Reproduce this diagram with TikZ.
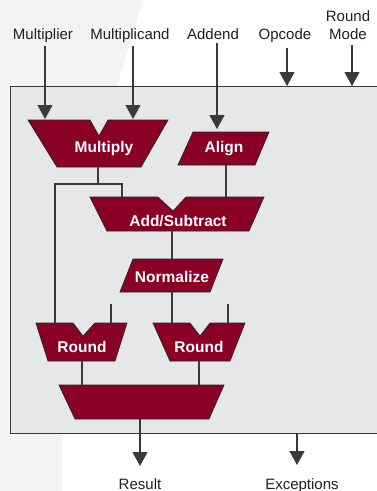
\documentclass[tikz,border=0pt]{standalone}
\usepackage{fontspec}
\setmainfont{Liberation Sans}
\usepackage{tikz}
\usetikzlibrary{arrows.meta,calc}
\definecolor{unit}{HTML}{8A0024}
\definecolor{panel}{HTML}{E6E7E9}
\definecolor{wirecol}{HTML}{3A3A3A}
\definecolor{pagetint}{HTML}{F3F3F3}
\definecolor{ink}{HTML}{231F20}

\begin{document}
\begin{tikzpicture}[x=1pt, y=-1pt,
  block/.style={fill=unit, draw=black!85, line width=0.7pt},
  lbl/.style={text=white, inner sep=0pt, font=\fontsize{15.5}{18}\selectfont\bfseries},
  io/.style={text=ink, inner sep=0pt, align=center, font=\fontsize{15}{18}\selectfont},
  wire/.style={draw=wirecol, line width=1.2pt},
  arr/.style={wire, -{Triangle[width=15pt,length=14pt]}}]
\clip (0,0) rectangle (377,491);
\fill[white] (0,0) rectangle (377,491);
\fill[pagetint] (0,0) -- (143,0) -- (117,86) -- (62,433) -- (62,491) -- (0,491) -- cycle;
% chip outline
\draw[fill=panel, draw=wirecol, line width=1pt] (10,86) rectangle (400,433);

% inputs and outputs
\node[io, anchor=base] (mplier) at (43,39) {Multiplier};
\node[io, anchor=base] (mcand) at (130,39) {Multiplicand};
\node[io, anchor=base] (addend) at (213,39) {Addend};
\node[io, anchor=base] (opcode) at (285,39) {Opcode};
\node[io, anchor=base] (rmode) at (348,39) {Round\\Mode};
\node[io, anchor=base] (result) at (140,489) {Result};
\node[io, anchor=base] (except) at (302,489) {Exceptions};

% units
\draw[block] (28,120) -- (90,120) -- (99,136) -- (108,120) -- (168,120)
  -- (141,167) -- (57,167) -- cycle;
\node[lbl] (mul) at (104,148) {Multiply};
\draw[block] (193,132) -- (269,132) -- (255,165) -- (178,165) -- cycle;
\node[lbl] (align) at (224,149) {Align};
\draw[block] (90,197) -- (158,197) -- (173,211) -- (186,197) -- (264,197)
  -- (249,231) -- (107,231) -- cycle;
\node[lbl] (addsub) at (178,221) {Add/Subtract};
\draw[block] (133,259) -- (223,259) -- (210,292) -- (120,292) -- cycle;
\node[lbl] (norm) at (172,277) {Normalize};
\draw[block] (36,323) -- (73,323) -- (83,336) -- (95,323) -- (127,323)
  -- (115,361) -- (48,361) -- cycle;
\node[lbl] (rnd1) at (82,347) {Round};
\draw[block] (153,323) -- (190,323) -- (200,336) -- (210,323) -- (245,323)
  -- (230,361) -- (170,361) -- cycle;
\node[lbl] (rnd2) at (199,347) {Round};
\draw[block] (59,385) -- (224,385) -- (209,419) -- (75,419) -- cycle;

% ports
\coordinate (mul-a) at (45,119);
\coordinate (mul-b) at (133,119);
\coordinate (align-a) at (217,129);
\coordinate (op-in) at (287,86);
\coordinate (rm-in) at (352,86);
\coordinate (mul-out) at (98,167);
\coordinate (split) at (98,184);
\coordinate (addsub-a) at (122,197);
\coordinate (align-out) at (226,165);
\coordinate (addsub-b) at (226,197);
\coordinate (addsub-out) at (172,231);
\coordinate (norm-in) at (172,259);
\coordinate (norm-out) at (172,292);
\coordinate (rnd1-a) at (55,323);
\coordinate (rnd1-b) at (111,323);
\coordinate (rnd1-c) at (111,304);
\coordinate (rnd2-a) at (172,323);
\coordinate (rnd2-b) at (228,323);
\coordinate (rnd2-c) at (228,304);
\coordinate (rnd1-out) at (82,361);
\coordinate (rnd2-out) at (199,361);
\coordinate (sel-a) at (82,385);
\coordinate (sel-b) at (199,385);
\coordinate (sel-out) at (140,419);
\coordinate (res-in) at (140,466);
\coordinate (exc-out) at (297,433);
\coordinate (exc-in) at (297,465);

\draw[arr] (mplier.south -| mul-a) ++(0,4) -- (mul-a);
\draw[arr] (mcand.south -| mul-b) ++(0,4) -- (mul-b);
\draw[arr] (addend.south -| align-a) ++(0,4) -- (align-a);
\draw[arr] (opcode.south -| op-in) ++(0,6) -- (op-in);
\draw[arr] (rmode.south -| rm-in) ++(0,6) -- (rm-in);

\draw[wire] (mul-out) -- (split) -| (rnd1-a);
\draw[wire] (split) -| (addsub-a);
\draw[wire] (align-out) -- (addsub-b);
\draw[wire] (addsub-out) -- (norm-in);
\draw[wire] (norm-out) -- (rnd2-a);
\draw[wire] (rnd1-c) -- (rnd1-b);
\draw[wire] (rnd2-c) -- (rnd2-b);
\draw[wire] (rnd1-out) -- (sel-a);
\draw[wire] (rnd2-out) -- (sel-b);
\draw[arr] (sel-out) -- (res-in);
\draw[arr] (exc-out) -- (exc-in);
\end{tikzpicture}
\end{document}
